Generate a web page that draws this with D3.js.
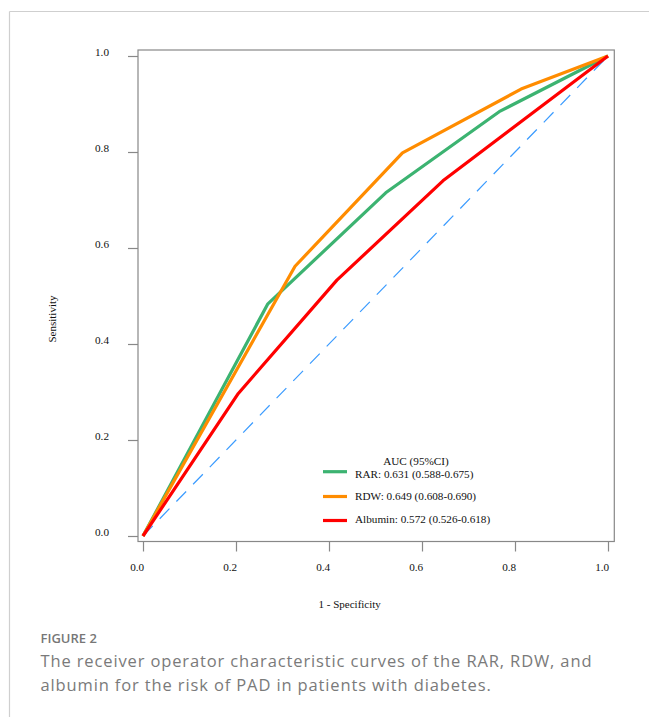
<!DOCTYPE html>
<html>
<head>
<meta charset="utf-8">
<script src="https://cdn.jsdelivr.net/npm/d3@7"></script>
<style>
html, body { margin: 0; padding: 0; background: #fff; }
svg { display: block; }
</style>
</head>
<body>
<svg id="chart" width="649" height="717"></svg>
<script>
// ---- data ----
const tickValues = [0.0, 0.2, 0.4, 0.6, 0.8, 1.0];
const tickLabels = ["0.0", "0.2", "0.4", "0.6", "0.8", "1.0"];
const seriesNames = ["RAR", "RDW", "Albumin"];
const legendLabels = ["RAR: 0.631 (0.588-0.675)", "RDW: 0.649 (0.608-0.690)", "Albumin: 0.572 (0.526-0.618)"];
const rarFpr = [0, 0.268, 0.522, 0.766, 1];
const rarTpr = [0, 0.483, 0.715, 0.884, 1];
const rdwFpr = [0, 0.327, 0.558, 0.813, 1];
const rdwTpr = [0, 0.562, 0.798, 0.931, 1];
const albFpr = [0, 0.205, 0.417, 0.645, 1];
const albTpr = [0, 0.297, 0.533, 0.740, 1];
const seriesColors = ["#3cb371", "#ff8c00", "#ff0000"];
const xTitle = "1 - Specificity";
const yTitle = "Sensitivity";
const legendTitle = "AUC (95%CI)";
const figLabel = "FIGURE 2";
const captionLines = ["The receiver operator characteristic curves of the RAR, RDW, and",
                      "albumin for the risk of PAD in patients with diabetes."];

// ---- layout ----
const svg = d3.select("#chart");
const x = d3.scaleLinear().domain([0, 1]).range([143, 608]);
const y = d3.scaleLinear().domain([0, 1]).range([536, 56]);
const boxL = 138, boxR = 614.3, boxT = 50, boxB = 541.5;
const serif = "'Liberation Serif', 'Times New Roman', serif";
const axisColor = "#888";

// page frame
svg.append("line").attr("x1", 9.5).attr("x2", 649).attr("y1", 11.5).attr("y2", 11.5)
  .attr("stroke", "#cfcfcf").attr("stroke-width", 1.2);
svg.append("line").attr("x1", 9.5).attr("x2", 9.5).attr("y1", 11.5).attr("y2", 717)
  .attr("stroke", "#cfcfcf").attr("stroke-width", 1.2);

// plot box
svg.append("rect").attr("x", boxL).attr("y", boxT).attr("width", boxR - boxL).attr("height", boxB - boxT)
  .attr("fill", "none").attr("stroke", axisColor).attr("stroke-width", 1.2);

// y axis
const yAxis = d3.axisLeft(y).tickValues(tickValues).tickFormat((d, i) => tickLabels[i])
  .tickSizeOuter(0).tickSizeInner(10).tickPadding(19);
const gy = svg.append("g").attr("transform", `translate(${boxL},0)`).call(yAxis);
gy.select(".domain").remove();
gy.selectAll(".tick line").attr("stroke", axisColor).attr("stroke-width", 1.2);
gy.selectAll(".tick text").attr("font-family", serif).attr("font-size", 11.2).attr("fill", "#111")
  .attr("dy", "-0.05em");

// x axis
const xAxis = d3.axisBottom(x).tickValues(tickValues).tickFormat((d, i) => tickLabels[i])
  .tickSizeOuter(0).tickSizeInner(10).tickPadding(12);
const gx = svg.append("g").attr("transform", `translate(0,${boxB})`).call(xAxis);
gx.select(".domain").remove();
gx.selectAll(".tick line").attr("stroke", axisColor).attr("stroke-width", 1.2);
gx.selectAll(".tick text").attr("font-family", serif).attr("font-size", 11.2).attr("fill", "#111")
  .attr("dx", -6.3);

// axis titles
svg.append("text").attr("x", 349.7).attr("y", 607.5).attr("text-anchor", "middle")
  .attr("font-family", serif).attr("font-size", 11).attr("fill", "#111").text(xTitle);
svg.append("text").attr("transform", "translate(55.5,319) rotate(-90)").attr("text-anchor", "middle")
  .attr("font-family", serif).attr("font-size", 11).attr("fill", "#111").text(yTitle);

// reference diagonal
svg.append("line").attr("x1", x(0)).attr("y1", y(0)).attr("x2", x(1)).attr("y2", y(1))
  .attr("stroke", "#3a9bff").attr("stroke-width", 1.2).attr("stroke-dasharray", "14,10");

// ROC curves
const series = [
  { fpr: rarFpr, tpr: rarTpr },
  { fpr: rdwFpr, tpr: rdwTpr },
  { fpr: albFpr, tpr: albTpr }
];
const line = d3.line().x(d => x(d[0])).y(d => y(d[1]));
series.forEach((s, i) => {
  const pts = s.fpr.map((f, j) => [f, s.tpr[j]]);
  svg.append("path").datum(pts).attr("d", line)
    .attr("fill", "none").attr("stroke", seriesColors[i]).attr("stroke-width", 3.2)
    .attr("stroke-linejoin", "round");
});

// legend
svg.append("text").attr("x", 416).attr("y", 465).attr("text-anchor", "middle")
  .attr("font-family", serif).attr("font-size", 11.2).attr("fill", "#111").text(legendTitle);
const legLineY = [471.7, 496.5, 520.5];
const legTextY = [478.3, 499.5, 523];
seriesNames.forEach((n, i) => {
  svg.append("line").attr("x1", 323).attr("x2", 347).attr("y1", legLineY[i]).attr("y2", legLineY[i])
    .attr("stroke", seriesColors[i]).attr("stroke-width", 3.2);
  svg.append("text").attr("x", 355).attr("y", legTextY[i])
    .attr("font-family", serif).attr("font-size", 11.2).attr("fill", "#111").text(legendLabels[i]);
});

// caption
const sans = "'Open Sans', 'Noto Sans', sans-serif";
svg.append("text").attr("x", 40.5).attr("y", 643).attr("font-family", sans).attr("font-weight", 600)
  .attr("font-size", 13).attr("fill", "#777").text(figLabel);
const capY = [666.5, 690.5];
const capTexts = captionLines.map((t, i) =>
  svg.append("text").attr("x", 40.5).attr("y", capY[i]).attr("font-family", sans)
    .attr("font-size", 16.5).attr("fill", "#7a7a7a").text(t));
// spread the first caption line to its width in the reference
const w0 = capTexts[0].node().getComputedTextLength();
const ls = Math.max(0, (551 - w0) / (captionLines[0].length - 1));
capTexts.forEach(t => t.attr("letter-spacing", ls));
</script>
</body>
</html>
